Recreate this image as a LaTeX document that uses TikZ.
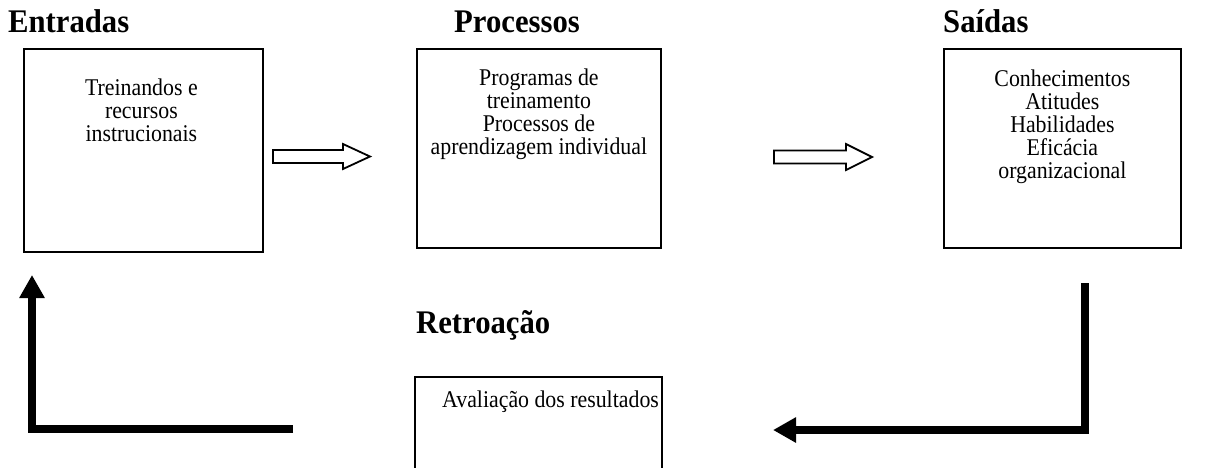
\documentclass[tikz,border=0pt]{standalone}
\usepackage{fontspec}
\setmainfont{Liberation Serif}
\newfontfamily\bodyfont[FakeStretch=0.91]{Liberation Serif}
\newfontfamily\titlefont[FakeStretch=0.93]{Liberation Serif}
\usetikzlibrary{arrows.meta}
\begin{document}
\begin{tikzpicture}[x=1pt,y=-1pt,
  box/.style={draw,line width=1.8pt,anchor=north west,inner sep=0pt},
  btext/.style={anchor=north,align=center,inner sep=0pt,font=\bodyfont\fontsize{24}{22.8}\selectfont},
  title/.style={anchor=base west,inner sep=0pt,font=\titlefont\fontsize{33}{34}\selectfont\bfseries},
  hollow/.style={draw,fill=white,line width=1.8pt,line join=miter},
  thick/.style={line width=8pt,line join=miter,-{Triangle[length=23pt,width=24pt]}}]
\useasboundingbox (0,0) rectangle (1224,467);
% titles
\node[title] (te) at (8,32) {Entradas};
\node[title] (tp) at (454,32) {Processos};
\node[title] (ts) at (943,32) {Saídas};
\node[title] (tr) at (416,333) {Retroação};
% boxes
\node[box,minimum width=239pt,minimum height=203pt] (e) at (23,48) {};
\node[box,minimum width=244pt,minimum height=199pt] (p) at (416,48) {};
\node[box,minimum width=237pt,minimum height=199pt] (s) at (943,48) {};
\node[box,minimum width=247pt,minimum height=92pt] (a) at (414,376) {};
% texts
\node[btext] (et) at ([xshift=-2pt,yshift=-31pt]e.north) {Treinandos e\\recursos\\instrucionais};
\node[btext] (pt) at ([yshift=-21pt]p.north) {Programas de\\treinamento\\Processos de\\aprendizagem individual};
\node[btext] (st) at ([yshift=-22pt]s.north) {Conhecimentos\\Atitudes\\Habilidades\\Eficácia\\organizacional};
\node[btext,anchor=north west] (at) at ([xshift=28pt,yshift=-15pt]a.north west) {Avaliação dos resultados};
% hollow arrows
\coordinate (h1) at (273,156.5);
\coordinate (h2) at (774,157);
\draw[hollow] (h1) ++(0,-6.5) -- ++(70,0) -- ++(0,-6) -- (370,156.5) -- (343,169) -- ++(0,-6) -- ++(-70,0) -- cycle;
\draw[hollow] (h2) ++(0,-6.5) -- ++(72,0) -- ++(0,-6.5) -- (872,157) -- (846,170) -- ++(0,-6.5) -- ++(-72,0) -- cycle;
% feedback arrows
\coordinate (r1) at (1085,283);
\coordinate (r2) at (1085,430);
\coordinate (r3) at (773,430);
\coordinate (l1) at (293,429);
\coordinate (l2) at (32,429);
\coordinate (l3) at (32,275);
\draw[thick] (r1) -- (r2) -- (r3);
\draw[thick] (l1) -- (l2) -- (l3);
\end{tikzpicture}
\end{document}
